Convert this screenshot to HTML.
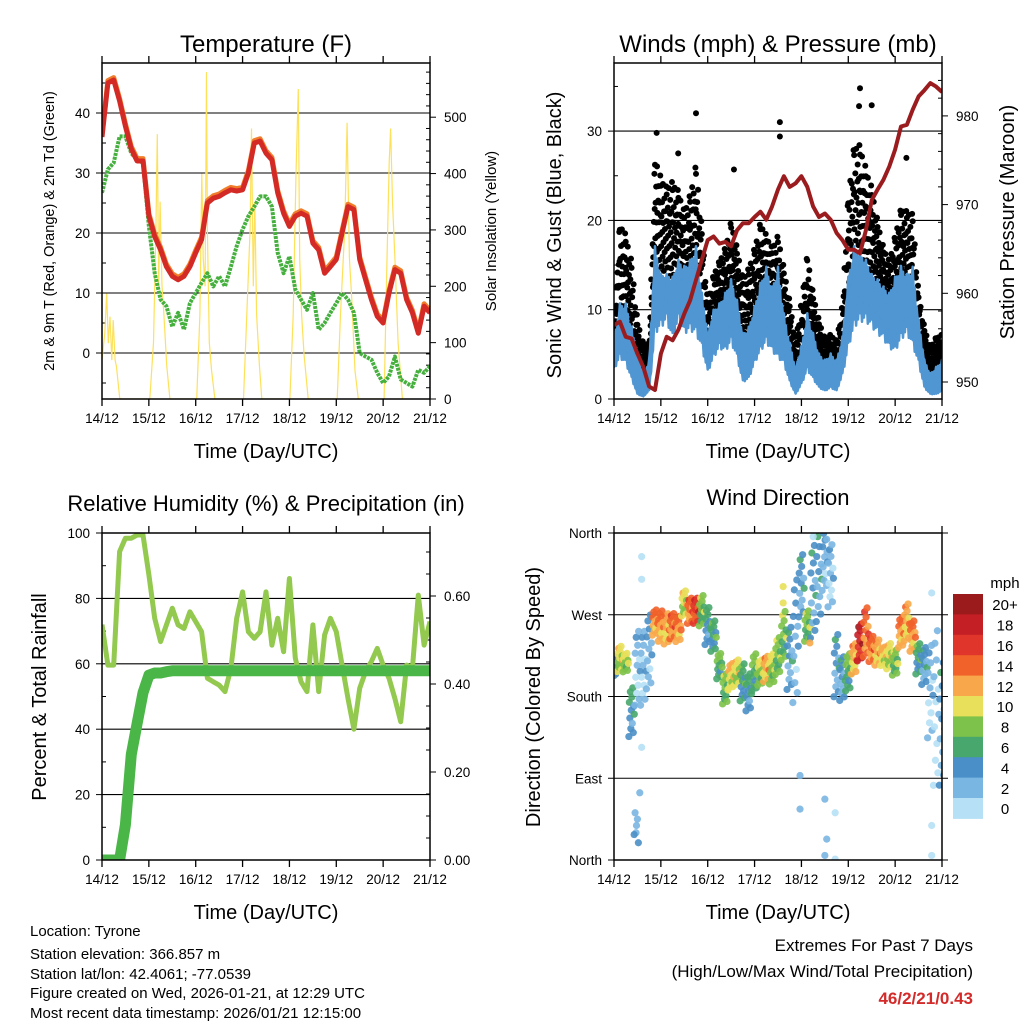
<!DOCTYPE html>
<html><head><meta charset="utf-8"><title>Station Meteogram</title>
<style>
html,body{margin:0;padding:0;background:#fff;}
svg{display:block;font-family:"Liberation Sans",Arial,sans-serif;}
</style></head>
<body>
<svg id="chart" width="1024" height="1024" viewBox="0 0 1024 1024" xmlns="http://www.w3.org/2000/svg">
<defs>
<clipPath id="c1"><rect x="102" y="63" width="328" height="336"/></clipPath>
<clipPath id="c2"><rect x="614" y="63" width="328" height="336"/></clipPath>
<clipPath id="c3"><rect x="102" y="533" width="328" height="327"/></clipPath>
<clipPath id="c4"><rect x="614" y="533" width="328" height="327"/></clipPath>
</defs>
<g id="layer"></g>
<g font-size="15" fill="#000">
<text x="30" y="936">Location: Tyrone</text>
<text x="30" y="959">Station elevation: 366.857 m</text>
<text x="30" y="979">Station lat/lon: 42.4061; -77.0539</text>
<text x="30" y="998">Figure created on Wed, 2026-01-21, at 12:29 UTC</text>
<text x="30" y="1018">Most recent data timestamp: 2026/01/21 12:15:00</text>
</g>
<g font-size="17" text-anchor="end">
<text x="973" y="951">Extremes For Past 7 Days</text>
<text x="973" y="977">(High/Low/Max Wind/Total Precipitation)</text>
<text x="973" y="1004" fill="#d42a2a" font-weight="bold">46/2/21/0.43</text>
</g>
</svg>
<script>
// ---- data (3-hourly, t = k*0.125 days from 14/12 00 UTC) ----
const dayLabels = ["14/12","15/12","16/12","17/12","18/12","19/12","20/12","21/12"];
const tempRed = [36,45,45.5,42,37.8,34,32,32,22.8,19.4,17.2,14.4,12.8,12.2,12.8,14.4,16.7,18.9,25,25.8,26.1,26.7,27.2,27,27.2,30,35,35.3,33.3,32.2,26.7,23.3,21.1,22.8,23.3,22.8,18.3,17.2,13.3,14.4,15.6,20,24.4,23.9,15.6,12.2,8.9,6.1,5,10,13.9,13.3,8.9,6.7,3.3,7.8,6.7];
const dewGreen = [26.7,30.6,31.7,36.1,36.1,33.3,32.2,31.7,21.1,13.3,8.9,7.8,4.4,6.7,3.9,8.3,10,11.7,13.3,11.1,12.8,11.1,14.4,17.8,20.6,22.8,24.4,26.1,26.1,24.4,16.7,13.3,16.1,10.6,8.9,7.2,10,3.9,5,6.7,8.3,10,8.9,6.7,0,-0.6,-1.1,-3.3,-5,-3.9,-0.6,-4.4,-5,-5.6,-2.8,-3.3,-2.2];
const solarT = [0,0.06,0.1,0.135,0.17,0.21,0.24,0.28,0.31,0.38, 1.02,1.1,1.15,1.18,1.21,1.24,1.28,1.32,1.38,1.45, 2.02,2.09,2.13,2.16,2.2,2.23,2.25,2.29,2.34,2.41, 3.02,3.09,3.16,3.19,3.23,3.26,3.3,3.36,3.41, 4.01,4.08,4.14,4.19,4.22,4.26,4.31,4.4, 5.02,5.09,5.18,5.23,5.28,5.33,5.4,5.47, 6.02,6.07,6.13,6.16,6.2,6.25,6.32,6.41];
const solarV = [70,117,187,99,146,69,140,69,57,0, 0,100,300,470,200,350,200,150,60,0, 0,150,400,250,200,580,300,100,50,0, 0,150,300,480,200,350,150,60,0, 0,150,400,550,250,150,80,0, 0,150,300,490,250,180,50,0, 0,200,420,480,350,250,100,0];
const windLow = [3.6,5.1,4.4,2.5,0.6,0.3,1,8.1,8.9,9.6,7.4,9.6,8.1,8.5,8.1,6.3,3.3,5.1,6.3,5.9,7,5.1,2.1,2.5,4.4,5.9,7,5.9,5.1,4.4,2.1,0.6,1.8,3.6,2.5,1.4,1,1.4,1,2.9,6.3,8.9,9.6,9.6,8.9,8.1,7.4,6.3,5.9,7.4,8.1,6.6,4.4,1.4,0.6,0.6,1];
const windHigh = [6.6,10.7,10.7,8.1,5.1,2.9,4.4,17.1,14,14,13.7,15.6,14.9,15.6,17.1,11.9,7.4,10,10.7,11.9,13.4,11.1,7.4,8.1,10.4,13,14.8,12.6,14.8,9.6,6.3,3.6,5.9,9.6,7.4,5.1,4.4,5.1,4.4,7,13.7,17.1,16.4,15.6,14,13.4,12.6,11.9,13.7,14.9,14,14.8,8.9,4.4,2.9,3.6,4.4];
const gustHigh = [8.9,20,18.6,15.6,8.9,6.3,6.3,27.6,25,23.9,24.6,23.5,21.2,23.1,26.5,19.4,11,14.1,15.6,17.1,20.1,17.1,13.7,14.8,17.1,20,18.5,17.1,18.5,14.8,11,6.6,11,16.4,11.9,8.9,6.9,7.3,6.6,10.7,23.1,28.7,28.7,26.1,23.9,20.1,17.1,15.6,18.5,21.6,21.2,20.9,11.9,8.1,5.9,7,7.3];
const gustOutT = [1.75,0.91,3.54,3.54,5.25,5.23,5.5,2.56,6.24,1.37];
const gustOutV = [32,29.8,31,29.4,34.8,32.8,32.9,25.7,27,27.5];
const pressure = [956.4,956.8,955.1,954.9,953.2,951.7,949.5,949.1,953.2,955.1,954.7,955.9,957.7,959.2,961.5,963.8,966,966.4,965.6,965.8,965.3,967.1,967.9,967.9,968.6,969.2,968.3,969.8,971.7,973.2,972,972.4,973.2,972,969.8,968.6,969,968.3,966.8,966,964.9,964.9,964.5,967.1,970.5,971.7,972.8,974.3,976.2,978.8,979,980.7,982.2,982.9,983.7,983.3,982.7];
const rh = [72,59.6,59.6,94.3,98.4,98.4,99.4,99.4,87.2,73.9,66.8,71.9,77,71.9,70.8,75.9,72.9,69.8,55.6,54.5,53.5,51.5,58.6,73.9,82,69.8,67.8,69.8,82,65.7,73.9,63.7,86.1,61.7,54.5,51.5,71.9,51.5,68.8,73.9,69.8,59.6,49.4,40,52.5,57.6,60.7,64.7,59.6,55.6,49.4,42.3,59.6,58.6,81,65.7,72.9];
const precip = [0,0,0,0,0.08,0.24,0.31,0.38,0.42,0.425,0.425,0.428,0.43,0.43,0.43,0.43,0.43,0.43,0.43,0.43,0.43,0.43,0.43,0.43,0.43,0.43,0.43,0.43,0.43,0.43,0.43,0.43,0.43,0.43,0.43,0.43,0.43,0.43,0.43,0.43,0.43,0.43,0.43,0.43,0.43,0.43,0.43,0.43,0.43,0.43,0.43,0.43,0.43,0.43,0.43,0.43,0.43];
const dirMean = [213,221,217,162,210,210,228,261,257,254,257,254,282,274,274,274,257,246,213,188,202,206,195,184,206,206,210,210,224,246,221,239,301,257,294,312,330,312,213,199,206,221,239,250,232,228,224,224,217,250,261,246,221,213,184,165,148];
const dirSpread = [11,15,11,29,44,44,44,15,18,18,15,15,15,15,15,18,22,18,15,18,15,15,22,22,22,15,15,18,22,29,37,73,37,18,55,55,37,37,37,26,22,18,22,29,15,15,11,15,15,18,22,18,18,22,55,92,73];
const dirSpeed = [4,10,9,5,2,2,3,13,13,12,14,13,10,14,16,8,5,6,7,8,11,10,6,5,7,9,12,9,8,8,4,3,4,8,4,4,3,2,4,4,7,12,18,14,14,12,11,10,8,13,12,13,6,4,2,1,4];
const dirExtraT = [0.48,0.45,0.52,0.55,0.59,0.59,0.59,3.97,3.97,4.5,4.5,4.54,4.72,4.72,6.78,6.78,6.78,4.25,4.54,3.61,3.61,4.18,0.47,0.5,0.43];
const dirExtraV = [38,52,19,74,124,334,309,56,93,67,5,23,52,1,38,5,294,356,353,301,283,239,30,45,28];
const dirExtraS = [3,2,4,2,1,1,1,2,3,3,2,2,1,1,1,1,1,1,2,10,10,12,3,2,4];
const speedBins = ["0","2","4","6","8","10","12","14","16","18","20+"];
const speedColors = ["#b6e0f5","#7ab6e2","#4a8fc7","#48a76c","#7dc24a","#e8e05a","#f8a84a","#f1622a","#e0352b","#c51f26","#9b1a1c"];

// ---- helpers ----
const NS = "http://www.w3.org/2000/svg";
const layer = document.getElementById("layer");
function el(tag, attrs, parent){
  const e = document.createElementNS(NS, tag);
  for (const k in attrs) e.setAttribute(k, attrs[k]);
  (parent || layer).appendChild(e);
  return e;
}
function txt(x, y, s, size, anchor, parent, rot){
  const e = el("text", {x:x, y:y, "font-size":size, "text-anchor":anchor||"middle", fill:"#000"}, parent);
  if (rot) e.setAttribute("transform", "rotate(" + rot + " " + x + " " + y + ")");
  e.textContent = s;
  return e;
}
const tOf = k => k * 0.125;

function frame(x0, y0, x1, y1, g){
  for (let d = 0; d <= 7; d++){
    const x = x0 + d * (x1 - x0) / 7;
    el("line", {x1:x, y1:y1, x2:x, y2:y1+7, stroke:"#000", "stroke-width":1.3}, g);
    el("line", {x1:x, y1:y0-7, x2:x, y2:y0, stroke:"#000", "stroke-width":1.3}, g);
    const l = txt(x, y1 + 24, dayLabels[d], 13.5, "middle", g);
    
    
  }
  const xt = txt((x0 + x1) / 2, y1 + 59, "Time (Day/UTC)", 20, "middle", g);
  
  
}
function border(x0, y0, x1, y1, g){
  el("rect", {x:x0, y:y0, width:x1-x0, height:y1-y0, fill:"none", stroke:"#000", "stroke-width":1.5}, g);
}
function gridY(x0, x1, y, g){
  el("line", {x1:x0, y1:y, x2:x1, y2:y, stroke:"#000", "stroke-width":1.1}, g);
}
function leftTick(x0, y, lab, g, minor){
  el("line", {x1:x0-(minor?0:6), y1:y, x2:x0+(minor?4:0), y2:y, stroke:"#000", "stroke-width":1}, g);
  if (lab !== null){
    const l = txt(x0 - 12, y + 5, lab, 13.5, "end", g);
    
    
  }
}
function rightTick(x1, y, lab, g, minor){
  el("line", {x1:x1-(minor?4:0), y1:y, x2:x1+(minor?0:6), y2:y, stroke:"#000", "stroke-width":1}, g);
  if (lab !== null){
    const l = txt(x1 + 14, y + 5, lab, 13.5, "start", g);
    
    
  }
}
function pts(xs, ys){ return xs.map((x,i)=> x.toFixed(1)+","+ys[i].toFixed(1)).join(" "); }

// ================= Panel 1: Temperature =================
{
  const g = el("g", {});
  
  
  const X = t => 102 + t * 46.857, Y = v => 353 - v * 6, YS = w => 399 - w * 0.5636;
  const t1 = txt(266, 52, "Temperature (F)", 24, "middle", g);
  
  
  for (let v = 0; v <= 40; v += 10) gridY(102, 430, Y(v), g);
  for (let v = -5; v <= 45; v += 5) leftTick(102, Y(v), v % 10 === 0 ? String(v) : null, g, v % 10 !== 0);
  for (let w = 0; w <= 580; w += 20) rightTick(430, YS(w), w % 100 === 0 ? String(w) : null, g, w % 100 !== 0);
  const c = el("g", {"clip-path":"url(#c1)"}, g);
  const sol = el("polyline", {points: pts(solarT.map(X), solarV.map(YS)), fill:"none", stroke:"#fde15a", "stroke-width":1.2}, c);
  
  
  const dew = el("polyline", {points: pts(dewGreen.map((v,k)=>X(tOf(k))), dewGreen.map(Y)), fill:"none", stroke:"#46b03f", "stroke-width":4, "stroke-dasharray":"3 1", "stroke-linejoin":"round"}, c);
  
  
  const tor = el("polyline", {points: pts(tempRed.map((v,k)=>X(tOf(k))), tempRed.map(v=>Y(v+0.4))), fill:"none", stroke:"#f07d2a", "stroke-width":5, "stroke-linejoin":"round"}, c);
  
  
  const tr = el("polyline", {points: pts(tempRed.map((v,k)=>X(tOf(k))), tempRed.map(Y)), fill:"none", stroke:"#d42a26", "stroke-width":5, "stroke-linejoin":"round"}, c);
  
  
  border(102, 63, 430, 399, g);
  frame(102, 63, 430, 399, g);
  const yt = txt(54, 231, "2m & 9m T (Red, Orange) & 2m Td (Green)", 14.5, "middle", g, -90);
  
  
  const yt2 = txt(496, 231, "Solar Insolation (Yellow)", 15, "middle", g, -90);
  
  
}

// ================= Panel 2: Winds & Pressure =================
{
  const g = el("g", {});
  
  
  const X = t => 614 + t * 46.857, Y = v => 399 - v * 8.93, YP = p => 382 - (p - 950) * 8.87;
  const t1 = txt(778, 52, "Winds (mph) & Pressure (mb)", 24, "middle", g);
  
  
  for (let v = 10; v <= 30; v += 10) gridY(614, 942, Y(v), g);
  for (let v = 0; v <= 35; v += 5) leftTick(614, Y(v), v % 10 === 0 ? String(v) : null, g, v % 10 !== 0);
  for (let p = 950; p <= 984; p += 2) rightTick(942, YP(p), p % 10 === 0 ? String(p) : null, g, p % 10 !== 0);
  const c = el("g", {"clip-path":"url(#c2)"}, g);
  const pat = [0.9,0.3,0.6,0.1,0.75,0.45,0.2,0.95,0.55,0.35,0.05,0.68,0.82,0.25,0.5,0.15,0.7,0.4,0.98,0.6];
  const gustG = el("g", {fill:"#000"}, c);
  
  
  for (let k = 0; k < gustHigh.length - 1; k++){
    for (let j = 0; j < pat.length; j++){
      const f = j / pat.length;
      const lo = windLow[k] + (windLow[k+1]-windLow[k]) * f;
      const gu = gustHigh[k] + (gustHigh[k+1]-gustHigh[k]) * f;
      const v = lo + (gu - lo) * (0.3 + 0.7 * pat[j]);
      const d = el("circle", {cx: X(tOf(k) + f * 0.125), cy: Y(v), r: 3}, gustG);
      
      
    }
  }
  gustOutT.forEach((t, i) => {
    const d = el("circle", {cx: X(t), cy: Y(gustOutV[i]), r: 3, fill:"#000"}, gustG);
    
    
  });
  // blue band with jagged edges (sub-steps modulate between low and high)
  const jag = [1,0.78,0.95,0.7,0.9,0.82];
  const jagL = [1,1.15,0.9,1.1,0.95,1.2];
  const up = [], dn = [], ux = [];
  for (let k = 0; k < windHigh.length - 1; k++){
    for (let j = 0; j < jag.length; j++){
      const f = j / jag.length;
      const hi = windHigh[k] + (windHigh[k+1]-windHigh[k]) * f;
      const lo = windLow[k] + (windLow[k+1]-windLow[k]) * f;
      ux.push(X(tOf(k) + f * 0.125));
      up.push(Y(lo + (hi - lo) * jag[j]));
      dn.push(Y(lo * jagL[j]));
    }
  }
  ux.push(X(tOf(windHigh.length-1))); up.push(Y(windHigh[windHigh.length-1])); dn.push(Y(windLow[windLow.length-1]));
  const band = el("polygon", {points: pts(ux.concat(ux.slice().reverse()), up.concat(dn.slice().reverse())), fill:"#4f96d2", stroke:"#4f96d2", "stroke-width":2.5, "stroke-linejoin":"round"}, c);
  
  
  const pl = el("polyline", {points: pts(pressure.map((v,k)=>X(tOf(k))), pressure.map(YP)), fill:"none", stroke:"#9b1c1f", "stroke-width":4, "stroke-linejoin":"round"}, c);
  
  
  border(614, 63, 942, 399, g);
  frame(614, 63, 942, 399, g);
  const yt = txt(561, 235, "Sonic Wind & Gust (Blue, Black)", 20, "middle", g, -90);
  
  
  const yt2 = txt(1014, 222, "Station Pressure (Maroon)", 20, "middle", g, -90);
  
  
}

// ================= Panel 3: RH & Precip =================
{
  const g = el("g", {});
  
  
  const X = t => 102 + t * 46.857, Y = v => 860 - v * 3.27, YP = v => 860 - v * 440;
  const t1 = txt(266, 511, "Relative Humidity (%) & Precipitation (in)", 22, "middle", g);
  
  
  for (let v = 20; v <= 80; v += 20) gridY(102, 430, Y(v), g);
  for (let v = 0; v <= 100; v += 10) leftTick(102, Y(v), v % 20 === 0 ? String(v) : null, g, v % 20 !== 0);
  for (let p = 0; p <= 0.72; p += 0.05) { const pr = Math.round(p*100)/100; rightTick(430, YP(pr), Math.round(pr*100) % 20 === 0 ? pr.toFixed(2) : null, g, Math.round(pr*100) % 20 !== 0); }
  const c = el("g", {"clip-path":"url(#c3)"}, g);
  const rl = el("polyline", {points: pts(rh.map((v,k)=>X(tOf(k))), rh.map(Y)), fill:"none", stroke:"#92c94e", "stroke-width":5, "stroke-linejoin":"round"}, c);
  
  
  const pl = el("polyline", {points: pts(precip.map((v,k)=>X(tOf(k))), precip.map(YP)), fill:"none", stroke:"#4bb648", "stroke-width":11, "stroke-linejoin":"round", "stroke-linecap":"round"}, c);
  
  
  border(102, 533, 430, 860, g);
  frame(102, 533, 430, 860, g);
  const yt = txt(46, 697, "Percent & Total Rainfall", 20, "middle", g, -90);
  
  
}

// ================= Panel 4: Wind Direction =================
{
  const g = el("g", {});
  
  
  const X = t => 614 + t * 46.857, Y = d => 860 - d * 0.9083;
  const t1 = txt(778, 505, "Wind Direction", 22, "middle", g);
  
  
  const dirLabels = ["North","East","South","West","North"];
  for (let i = 1; i <= 3; i++) gridY(614, 942, Y(i*90), g);
  for (let i = 0; i <= 4; i++) leftTick(614, Y(i*90), dirLabels[i], g, false);
  for (let i = 0; i <= 4; i++) rightTick(942, Y(i*90), null, g, false);
  const c = el("g", {"clip-path":"url(#c4)"}, g);
  const col = s => speedColors[Math.max(0, Math.min(10, Math.floor(s / 2)))];
  const dp = [-0.9,0.4,-0.2,0.8,-0.6,0.1,0.6,-0.4,0.95,-0.75,0.25,-0.05];
  const sp = [0,1,-1,2,-1,0,1,-2,1,0,-1,2];
  for (let k = 0; k < dirMean.length; k++){
    for (let j = 0; j < dp.length; j++){
      const s = Math.max(0, dirSpeed[k] + sp[j]);
      const d = el("circle", {cx: X(Math.max(0, tOf(k) + (j - 5.5) * 0.0105)), cy: Y(dirMean[k] + dirSpread[k] * dp[j]), r: 3.6, fill: col(s), "fill-opacity": 0.9}, c);
      
      
    }
  }
  dirExtraT.forEach((t, i) => {
    const d = el("circle", {cx: X(t), cy: Y(dirExtraV[i]), r: 3.6, fill: col(dirExtraS[i]), "fill-opacity": 0.9}, c);
    
    
  });
  border(614, 533, 942, 860, g);
  frame(614, 533, 942, 860, g);
  const yt = txt(540, 697, "Direction (Colored By Speed)", 20, "middle", g, -90);
  
  
  const cb = el("g", {}, g);
  
  
  const mt = txt(1005, 588, "mph", 15, "middle", cb);
  
  
  const top = 594, h = 20.4;
  for (let i = 0; i < speedColors.length; i++){
    const idx = speedColors.length - 1 - i;
    const r = el("rect", {x:953, y: top + i*h, width:30, height:h+0.5, fill: speedColors[idx]}, cb);
    
    
    const l = txt(1005, top + i*h + h/2 + 6, speedBins[idx], 15, "middle", cb);
    
    
  }
}
</script>
</body></html>
